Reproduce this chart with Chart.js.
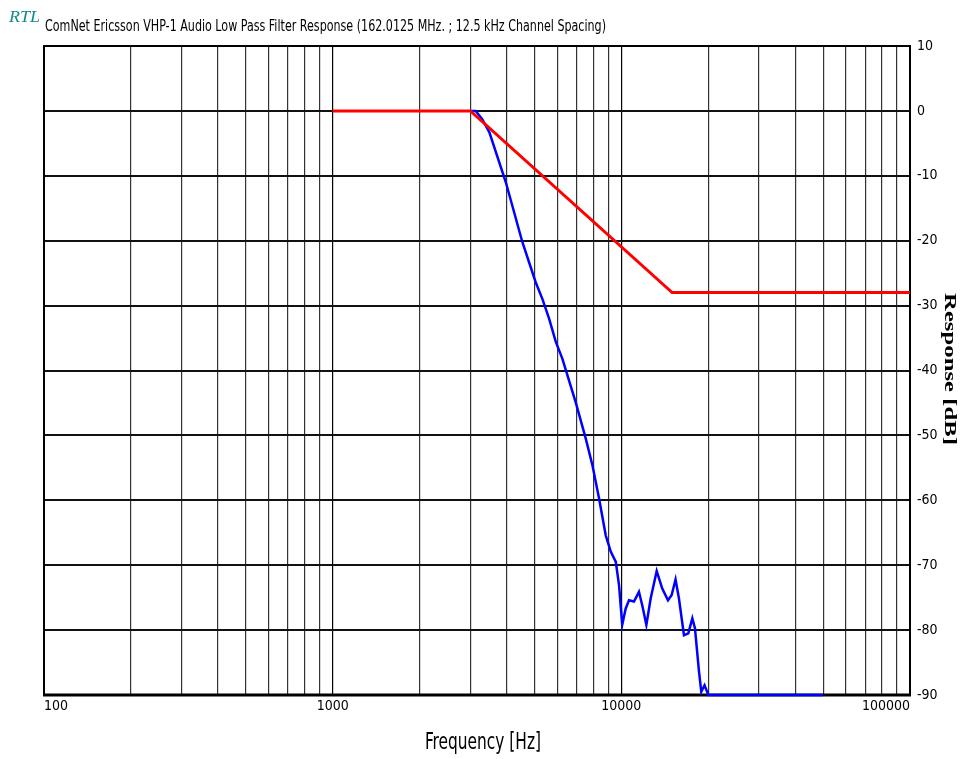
<!DOCTYPE html>
<html>
<head>
<meta charset="utf-8">
<script src="https://cdn.jsdelivr.net/npm/chart.js@4"></script>
<style>
  html, body { margin: 0; padding: 0; background: #fff; }
  #wrap { width: 963px; height: 759px; position: relative; }
</style>
</head>
<body>
<div id="wrap"><canvas id="filterChart"></canvas></div>
<script>
// limit mask (red)
const redFreq = [1000, 3000, 15000, 100000];
const redDb = [0, 0, -28, -28];

// measured filter response (blue)
const blueFreq = [3000, 3130, 3300, 3490, 3980, 4540, 5050, 5330, 5620, 5930, 6250, 6950, 7530, 7940,
  8370, 8830, 9190, 9570, 9820, 10070, 10350, 10630, 11060, 11510, 11820, 12210, 12640, 13260, 13860,
  14510, 14940, 15410, 15830, 16480, 17060, 17620, 17990, 18580, 18920, 19420, 19860, 20000, 50000];
const blueDb = [0, 0, -1.3, -3.3, -11, -20.2, -26.4, -29, -32, -35.6, -38.2, -44.9, -50.5, -54.6,
  -59.7, -65.4, -67.9, -69.5, -73.1, -79.2, -76.7, -75.4, -75.6, -74.1, -76.2, -79.2, -75.1, -70.9, -73.6,
  -75.4, -74.6, -72.2, -75.1, -80.8, -80.5, -78.2, -79.7, -86.4, -89.5, -88.5, -89.6, -90, -90];

const xTickLabels = [100, 1000, 10000, 100000];
const yMin = -90, yMax = 10, yStep = 10;

const titleText = 'ComNet Ericsson VHP-1 Audio Low Pass Filter Response (162.0125 MHz. ; 12.5 kHz Channel Spacing)';
const xTitle = 'Frequency [Hz]';
const yTitle = 'Response [dB]';

const narrow = "'Liberation Sans Narrow', 'DejaVu Sans Condensed', 'Liberation Sans', sans-serif";

// 1..9 x 10^n grid lines
const gridFreqs = [];
for (let d = 100; d < 100000; d *= 10) {
  for (let m = 1; m < 10; m++) gridFreqs.push(m * d);
}
gridFreqs.push(100000);

function pts(xs, ys) { return xs.map((x, i) => ({ x: x, y: ys[i] })); }

// draw text squeezed/stretched to a given width
function fitText(ctx, text, x, y, font, width, rot) {
  ctx.save();
  ctx.font = font;
  const w = ctx.measureText(text).width;
  ctx.translate(x, y);
  if (rot) ctx.rotate(rot);
  ctx.scale(width / w, 1);
  ctx.textAlign = 'left';
  ctx.textBaseline = 'alphabetic';
  ctx.fillText(text, 0, 0);
  ctx.restore();
}

const frame = {
  id: 'frame',
  beforeDatasetsDraw(chart) {
    const { ctx, chartArea: a } = chart;
    ctx.save();
    ctx.strokeStyle = '#000';
    ctx.lineWidth = 2;
    ctx.strokeRect(a.left, a.top, a.right - a.left, a.bottom - a.top);
    ctx.lineWidth = 3;
    ctx.beginPath();
    ctx.moveTo(a.left - 1, a.bottom);
    ctx.lineTo(a.right + 1, a.bottom);
    ctx.stroke();
    ctx.restore();
  },
  afterDraw(chart) {
    const ctx = chart.ctx;
    ctx.fillStyle = '#128a8a';
    fitText(ctx, 'RTL', 9, 22, "italic 17px 'Liberation Serif', serif", 31);
    ctx.fillStyle = '#000';
    fitText(ctx, titleText, 45, 31, '16px ' + narrow, 561);
    fitText(ctx, xTitle, 425, 749, '23px ' + narrow, 116);
    fitText(ctx, yTitle, 945, 293, "bold 16px 'Liberation Serif', serif", 152, Math.PI / 2);
  }
};

new Chart(document.getElementById('filterChart'), {
  type: 'line',
  data: {
    datasets: [{
      label: 'Limit',
      data: pts(redFreq, redDb),
      borderColor: '#ff0000',
      borderWidth: 3,
      pointRadius: 0,
      tension: 0,
      clip: 4
    }, {
      label: 'Response',
      data: pts(blueFreq, blueDb),
      borderColor: '#0000ff',
      borderWidth: 2.5,
      pointRadius: 0,
      tension: 0,
      clip: 4
    }]
  },
  options: {
    responsive: true,
    maintainAspectRatio: false,
    animation: false,
    layout: { padding: { left: 44, top: 46, right: 0, bottom: 0 } },
    plugins: { legend: { display: false }, tooltip: { enabled: false } },
    scales: {
      x: {
        type: 'logarithmic',
        min: 100,
        max: 100000,
        afterBuildTicks: (s) => { s.ticks = gridFreqs.map(v => ({ value: v })); },
        afterFit: (s) => { s.height = 64; },
        border: { display: false },
        grid: {
          drawTicks: false,
          color: (c) => (c.tick && xTickLabels.includes(c.tick.value)) ? '#000' : '#333',
          lineWidth: 1.2
        },
        ticks: {
          autoSkip: false,
          maxRotation: 0,
          align: 'inner',
          padding: 3,
          color: '#000',
          font: { family: narrow, size: 14 },
          callback: (v) => xTickLabels.includes(v) ? String(v) : ''
        }
      },
      y: {
        position: 'right',
        min: yMin,
        max: yMax,
        afterFit: (s) => { s.width = 53; },
        border: { display: false },
        grid: { drawTicks: false, color: '#111', lineWidth: 2 },
        ticks: {
          stepSize: yStep,
          padding: 7,
          color: '#000',
          font: { family: narrow, size: 14 }
        }
      }
    }
  },
  plugins: [frame]
});
</script>
</body>
</html>
